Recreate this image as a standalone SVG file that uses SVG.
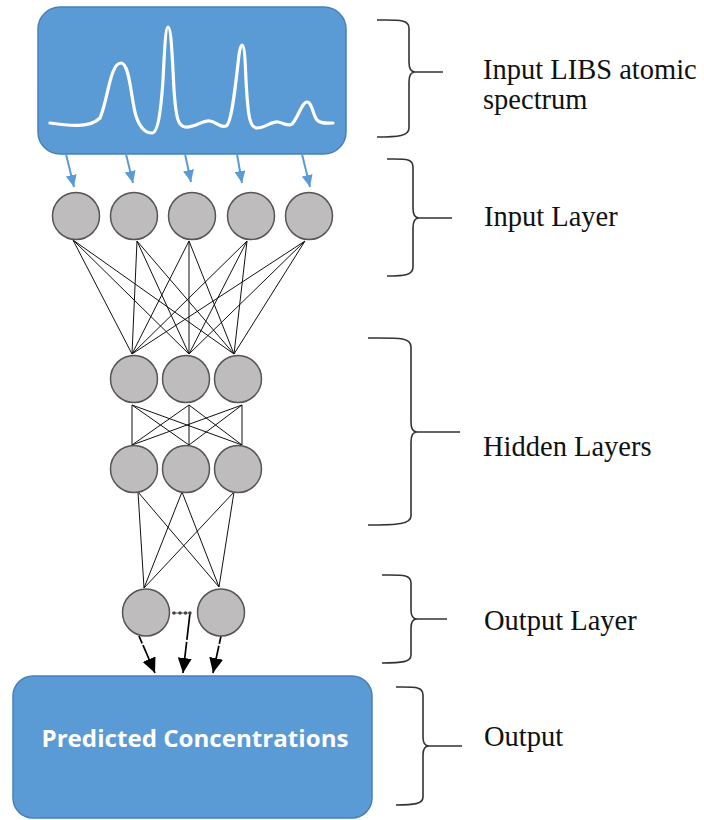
<svg xmlns="http://www.w3.org/2000/svg" width="704" height="820" viewBox="0 0 704 820">
  <style>
    .box { fill: #5b9bd5; stroke: #4a80b8; stroke-width: 1.5; }
    .neuron { fill: #bebcbd; stroke: #555; stroke-width: 1.5; }
    .wire { stroke: #111; stroke-width: 1; fill: none; }
    .feed { stroke: #5b9bd5; stroke-width: 2; fill: none; }
    .out { stroke: #000; stroke-width: 1.7; fill: none; }
    .brace { stroke: #333; stroke-width: 1.6; fill: none; }
    .label { font-family: "Liberation Serif", "Times New Roman", serif; font-size: 28.5px; fill: #111; }
    .boxtext { font-family: "Open Sans", "Liberation Sans", sans-serif; font-weight: bold; font-size: 23px; fill: #fff; }
  </style>
  <defs>
    <marker id="blueHead" markerUnits="userSpaceOnUse" markerWidth="12" markerHeight="11" refX="12" refY="5.5" orient="auto">
      <path d="M0,0 L12,5.5 L0,11 z" fill="#5b9bd5"/>
    </marker>
    <marker id="blackHead" markerUnits="userSpaceOnUse" markerWidth="15" markerHeight="14" refX="15" refY="7" orient="auto">
      <path d="M0,0 L15,7 L0,14 z" fill="#000"/>
    </marker>
  </defs>

  <!-- input spectrum box -->
  <g id="spectrum-box">
    <rect class="box" x="38" y="7" width="308" height="147" rx="22"/>
    <path d="M50,123 C70,126 90,128 100,118 C108,100 110,63 121,63 C130,63 131,100 136,116 C140,128 146,133 152,133 C158,133 161,110 163,80 C165,40 166,27 168,27 C171,27 172,50 174,90 C176,118 178,126 185,127 C195,128 202,120 210,121 C217,122 220,128 226,126 C232,124 236,80 239,55 C240,47 241,45 242,45 C244,45 245,55 246,80 C248,118 250,128 257,128 C265,128 272,121 278,122 C284,123 288,127 292,124 C298,118 302,102 307,102 C312,102 313,115 317,120 C321,124 326,123 333,123" fill="none" stroke="#fff" stroke-width="3.2" stroke-linecap="round"/>
  </g>

  <!-- connectors -->
  <g id="connectors">
    <!-- spectrum to input layer -->
    <line class="feed" x1="66" y1="154" x2="74" y2="187" marker-end="url(#blueHead)"/>
    <line class="feed" x1="126" y1="154" x2="133" y2="183" marker-end="url(#blueHead)"/>
    <line class="feed" x1="185" y1="154" x2="191" y2="182" marker-end="url(#blueHead)"/>
    <line class="feed" x1="237" y1="154" x2="242" y2="183" marker-end="url(#blueHead)"/>
    <line class="feed" x1="302" y1="154" x2="310" y2="187" marker-end="url(#blueHead)"/>

    <!-- input layer to hidden layer 1 -->
    <path class="wire" d="M73,240 L132,354 M73,240 L189,354 M73,240 L234,354
                          M137,241 L132,354 M137,241 L189,354 M137,241 L234,354
                          M189,241 L132,354 M189,241 L189,354 M189,241 L234,354
                          M247,241 L132,354 M247,241 L189,354 M247,241 L234,354
                          M305,241 L132,354 M305,241 L189,354 M305,241 L234,354"/>

    <!-- hidden layer 1 to hidden layer 2 -->
    <path class="wire" d="M132,405 L132,445 M132,405 L189,445 M132,405 L242,445
                          M189,405 L132,445 M189,405 L189,445 M189,405 L242,445
                          M242,405 L132,445 M242,405 L189,445 M242,405 L242,445"/>

    <!-- hidden layer 2 to output layer -->
    <path class="wire" d="M138,492 L144,588 M138,492 L219,587
                          M182,492 L144,588 M182,492 L219,587
                          M234,492 L144,588 M234,492 L219,587"/>

    <!-- output layer to predictions -->
    <line class="out" x1="139" y1="636" x2="155" y2="673" stroke-dasharray="8 2 100" marker-end="url(#blackHead)"/>
    <line class="out" x1="190" y1="613" x2="183" y2="673" stroke-dasharray="27 2 100" marker-end="url(#blackHead)"/>
    <line class="out" x1="221" y1="636" x2="213" y2="673" stroke-dasharray="8 2 100" marker-end="url(#blackHead)"/>
  </g>

  <!-- input layer -->
  <g id="input-layer">
    <circle class="neuron" cx="76" cy="216" r="23.5"/>
    <circle class="neuron" cx="134" cy="216" r="23.5"/>
    <circle class="neuron" cx="192" cy="216" r="23.5"/>
    <circle class="neuron" cx="251" cy="216" r="23.5"/>
    <circle class="neuron" cx="309" cy="216" r="23.5"/>
  </g>

  <!-- hidden layers -->
  <g id="hidden-layer-1">
    <circle class="neuron" cx="134" cy="379" r="23.5"/>
    <circle class="neuron" cx="186" cy="379" r="23.5"/>
    <circle class="neuron" cx="238" cy="379" r="23.5"/>
  </g>
  <g id="hidden-layer-2">
    <circle class="neuron" cx="134" cy="469" r="23.5"/>
    <circle class="neuron" cx="186" cy="469" r="23.5"/>
    <circle class="neuron" cx="238" cy="469" r="23.5"/>
  </g>

  <!-- output layer -->
  <g id="output-layer">
    <circle class="neuron" cx="146" cy="612.5" r="23.5"/>
    <circle class="neuron" cx="221" cy="612.5" r="23.5"/>
    <line x1="172" y1="613" x2="190" y2="613" stroke="#555" stroke-width="1"/>
    <g fill="#444">
      <circle cx="174" cy="613" r="1.7"/>
      <circle cx="180" cy="613" r="1.7"/>
      <circle cx="185.5" cy="613" r="1.7"/>
      <circle cx="190" cy="613" r="1.7"/>
    </g>
  </g>

  <!-- prediction box -->
  <g id="prediction-box">
    <rect class="box" x="13" y="676" width="359" height="142" rx="20"/>
    <text class="boxtext" x="195" y="747" text-anchor="middle" textLength="307" lengthAdjust="spacingAndGlyphs">Predicted Concentrations</text>
  </g>

  <!-- braces and labels -->
  <g id="label-spectrum">
    <path class="brace" d="M377,20 C398,20 409,19 409,28 L409,62 Q409,72 415,72 Q409,72 409,82 L409,128 C409,136 398,137 377,137 M415,72 L443,72"/>
    <text class="label" x="483" y="79">Input LIBS atomic</text>
    <text class="label" x="483" y="109">spectrum</text>
  </g>
  <g id="label-input">
    <path class="brace" d="M387,159 C405,159 413,158 413,167 L413,208 Q413,218 419,218 Q413,218 413,228 L413,267 C413,275 405,276 387,276 M419,218 L452,218"/>
    <text class="label" x="484" y="226">Input Layer</text>
  </g>
  <g id="label-hidden">
    <path class="brace" d="M368,338 C398,338 411,337 411,347 L411,422 Q411,432 417,432 Q411,432 411,442 L411,516 C411,524 398,525 368,525 M417,432 L460,432"/>
    <text class="label" x="483" y="456">Hidden Layers</text>
  </g>
  <g id="label-output-layer">
    <path class="brace" d="M382,575 C402,575 411,574 411,583 L411,610 Q411,619 417,619 Q411,619 411,628 L411,655 C411,662 402,663 382,663 M417,619 L447,619"/>
    <text class="label" x="484" y="630">Output Layer</text>
  </g>
  <g id="label-output">
    <path class="brace" d="M396,687 C414,687 423,686 423,695 L423,737 Q423,746 429,746 Q423,746 423,755 L423,797 C423,804 414,805 396,805 M429,746 L462,746"/>
    <text class="label" x="484" y="746">Output</text>
  </g>
</svg>
